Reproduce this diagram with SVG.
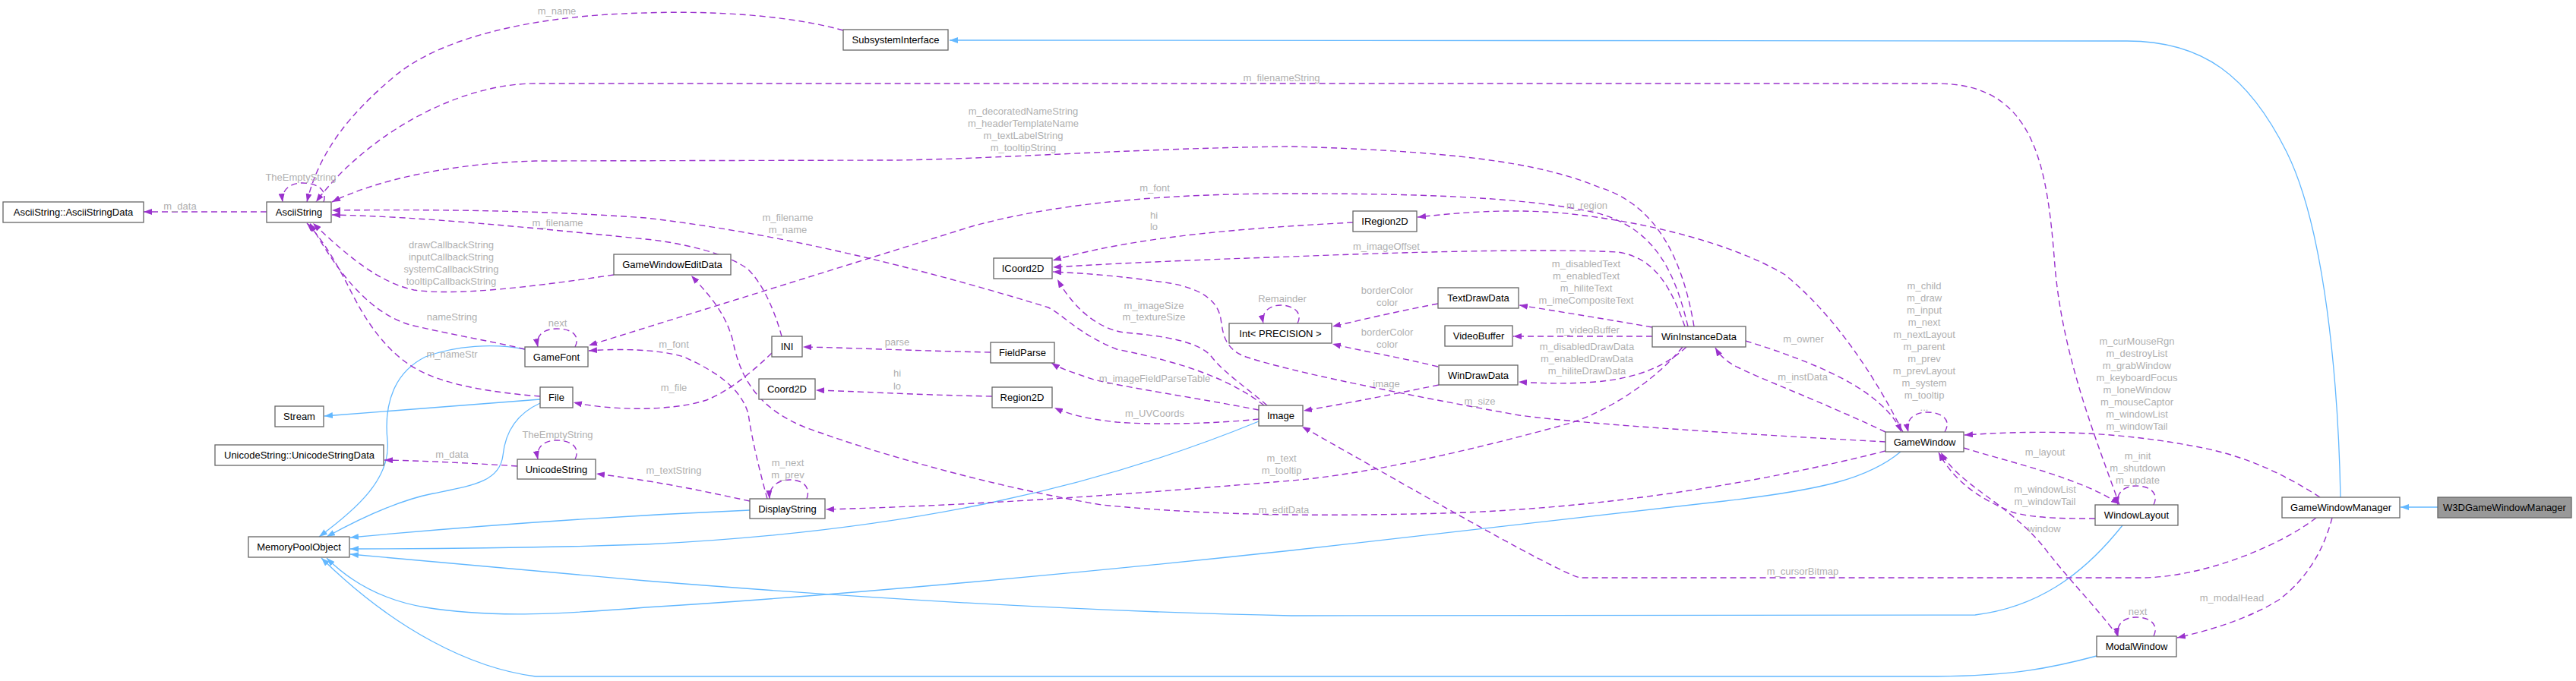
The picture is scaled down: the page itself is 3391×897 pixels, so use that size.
<svg xmlns="http://www.w3.org/2000/svg" width="3391" height="897" viewBox="0 0 3391 897">
<style>
.n rect{fill:#fff;stroke:#666;stroke-width:1.3}
.n text{font-family:"Liberation Sans",Arial,sans-serif;font-size:13px;text-anchor:middle;fill:#000}
.g rect{fill:#999;stroke:#666;stroke-width:1.3}
.e{fill:none;stroke:#9a32cd;stroke-width:1.4;stroke-dasharray:8,5;marker-end:url(#ap)}
.s{fill:none;stroke:#9a32cd;stroke-width:1.4;stroke-dasharray:8,5}
.b{fill:none;stroke:#63b8ff;stroke-width:1.3;marker-end:url(#ab)}
.l{font-family:"Liberation Sans",Arial,sans-serif;font-size:13px;text-anchor:middle;fill:#b0b0b0}
</style>
<defs>
<marker id="ap" viewBox="0 0 11 8" refX="11" refY="4" markerWidth="11" markerHeight="8" markerUnits="userSpaceOnUse" orient="auto"><path d="M0,0 L11,4 L0,8 z" fill="#9a32cd"/></marker>
<marker id="ab" viewBox="0 0 11 8" refX="11" refY="4" markerWidth="11" markerHeight="8" markerUnits="userSpaceOnUse" orient="auto"><path d="M0,0 L11,4 L0,8 z" fill="#63b8ff"/></marker>
</defs>
<rect width="3391" height="897" fill="#fff"/>
<g id="edges">
<!-- inheritance -->
<path class="b" d="M3081,655 C3078,500 3060,300 3010,200 C2960,100 2900,54 2800,54 L1250,53"/>
<path class="b" d="M3209,668 L3160,668"/>
<path class="b" d="M711,526 C600,535 500,542 427,548"/>
<path class="b" d="M711,531 C680,545 665,570 662,600 C658,635 620,640 570,650 C520,660 470,685 430,707"/>
<path class="b" d="M691,460 C650,452 600,455 560,470 C520,490 505,530 510,580 C515,630 470,670 420,707"/>
<path class="b" d="M987,672 C800,680 600,695 461,708"/>
<path class="b" d="M1657,555 C1450,640 1200,700 850,717 C700,722 580,723 461,723"/>
<path class="b" d="M2794,692 C2740,760 2680,800 2600,810 L1700,811 C1400,805 1100,785 850,765 C700,752 560,740 461,730"/>
<path class="b" d="M2502,595 C2460,630 2400,645 2270,660 L1700,725 C1450,752 1100,785 850,800 C750,808 650,815 560,800 C500,790 460,765 430,735"/>
<path class="b" d="M2760,864 C2700,880 2650,890 2550,891 L705,891 C620,880 520,830 423,735"/>
<!-- collaboration -->
<path class="e" d="M351,279 L189,279"/>
<path class="e" d="M426,266 C432,248 414,241 398,241 C382,241 370,250 372,266"/>
<path class="e" d="M1110,40 C1020,15 900,15 850,17 C700,20 580,50 520,100 C460,150 420,200 404,266"/>
<path class="e" d="M2790,665 C2760,580 2715,470 2705,350 C2695,220 2680,110 2550,110 L705,110 C600,110 480,180 416,266"/>
<path class="e" d="M2230,430 C2215,340 2180,270 2106,247 C2040,220 1950,200 1700,193 C1500,195 1300,210 1175,211 L705,212 C600,215 500,235 437,266"/>
<path class="e" d="M2222,430 C2205,360 2180,300 2100,280 C2000,258 1850,255 1700,255 C1550,255 1400,265 1280,298 L775,455"/>
<path class="e" d="M2505,569 C2470,500 2420,420 2350,362 C2280,320 2160,290 2050,280 C1980,275 1920,280 1866,286"/>
<path class="e" d="M2218,430 C2200,380 2180,340 2130,332 C2050,328 1900,330 1700,338 C1550,343 1450,348 1386,352"/>
<path class="e" d="M1781,293 C1650,300 1500,310 1386,343"/>
<path class="e" d="M2482,582 C2300,572 2100,560 2000,547 C1850,520 1700,490 1640,470 C1612,460 1610,440 1607,420 C1603,395 1580,380 1540,373 C1480,364 1430,360 1386,358"/>
<path class="e" d="M1668,534 C1640,510 1610,490 1595,470 C1580,450 1530,442 1480,438 C1440,432 1410,400 1392,368"/>
<path class="e" d="M1664,534 C1620,500 1560,478 1470,460 C1420,440 1400,415 1380,405 C1250,365 1050,310 850,287 C700,276 550,276 437,277"/>
<path class="e" d="M1029,443 C1020,410 1005,375 985,355 C960,335 900,320 850,315 C700,300 550,285 437,283"/>
<path class="e" d="M808,362 C700,378 600,390 545,382 C500,372 460,340 412,294"/>
<path class="e" d="M691,460 C650,450 600,442 540,428 C480,410 440,350 408,294"/>
<path class="e" d="M711,522 C660,518 600,510 560,492 C510,470 480,420 460,380 C440,340 420,310 404,294"/>
<path class="e" d="M757,457 C765,440 750,433 733,433 C715,433 705,442 708,457"/>
<path class="e" d="M1010,657 C1000,620 990,580 985,545 C975,510 940,488 900,470 C860,458 800,460 775,462"/>
<path class="e" d="M2482,594 C2300,640 2100,670 1900,676 C1750,680 1600,680 1450,665 C1300,640 1150,595 1080,570 C1000,545 975,500 965,450 C955,410 930,385 910,363"/>
<path class="e" d="M1016,465 C990,490 960,515 930,527 C880,543 800,540 755,530"/>
<path class="e" d="M1304,464 C1200,462 1120,458 1057,457"/>
<path class="e" d="M1306,522 C1200,520 1120,515 1074,514"/>
<path class="e" d="M1657,540 C1580,525 1480,510 1440,500 C1410,490 1395,485 1384,478"/>
<path class="e" d="M1657,552 C1600,558 1520,560 1470,556 C1430,552 1405,545 1388,537"/>
<path class="e" d="M987,660 C930,648 880,636 785,624"/>
<path class="e" d="M1062,657 C1068,640 1055,632 1040,632 C1025,632 1012,640 1013,657"/>
<path class="e" d="M2215,457 C2180,500 2120,540 2068,557 C1950,590 1800,625 1700,633 C1500,650 1300,665 1087,671"/>
<path class="e" d="M681,614 C620,610 560,607 506,606"/>
<path class="e" d="M757,605 C765,588 750,580 733,580 C715,580 705,590 708,605"/>
<path class="e" d="M1708,426 C1716,410 1700,402 1686,402 C1670,402 1660,412 1663,426"/>
<path class="e" d="M1893,400 C1830,412 1790,422 1754,430"/>
<path class="e" d="M1893,483 C1840,470 1790,462 1754,453"/>
<path class="e" d="M1894,507 C1830,520 1780,530 1716,541"/>
<path class="e" d="M2175,431 C2100,418 2050,410 2000,402"/>
<path class="e" d="M2175,443 L1992,443"/>
<path class="e" d="M2220,457 C2195,480 2160,498 2100,503 C2060,506 2030,505 1999,503"/>
<path class="e" d="M2482,569 C2400,530 2320,500 2290,485 C2275,478 2265,470 2258,458"/>
<path class="e" d="M2298,449 C2350,465 2420,490 2460,520 C2480,535 2495,550 2503,569"/>
<path class="e" d="M2560,569 C2570,552 2555,543 2537,543 C2520,543 2508,552 2512,569"/>
<path class="e" d="M3054,655 C3000,620 2950,600 2900,590 C2800,570 2700,565 2586,573"/>
<path class="e" d="M3049,682 C3000,720 2900,760 2821,761 L2080,761 C2050,755 1800,610 1714,562"/>
<path class="e" d="M3070,682 C3060,720 3040,760 3000,790 C2960,815 2910,830 2866,840"/>
<path class="e" d="M2835,838 C2843,821 2828,813 2812,813 C2796,813 2785,822 2788,838"/>
<path class="e" d="M2788,838 C2760,800 2720,760 2690,720 C2640,660 2580,640 2555,596"/>
<path class="e" d="M2758,683 C2720,683 2680,683 2650,675 C2600,655 2570,630 2552,596"/>
<path class="e" d="M2585,590 C2650,610 2740,630 2790,664"/>
<path class="e" d="M2835,665 C2843,648 2828,640 2812,640 C2796,640 2785,649 2788,665"/>
<!-- labels -->
<text class="l" x="237" y="276">m_data</text>
<text class="l" x="396" y="238">TheEmptyString</text>
<text class="l" x="733" y="19">m_name</text>
<text class="l" x="1687" y="107">m_filenameString</text>
<text class="l" x="1347" y="151">m_decoratedNameString</text>
<text class="l" x="1347" y="167">m_headerTemplateName</text>
<text class="l" x="1347" y="183">m_textLabelString</text>
<text class="l" x="1347" y="199">m_tooltipString</text>
<text class="l" x="1520" y="252">m_font</text>
<text class="l" x="2089" y="275">m_region</text>
<text class="l" x="1825" y="329">m_imageOffset</text>
<text class="l" x="1519" y="288">hi</text>
<text class="l" x="1519" y="303">lo</text>
<text class="l" x="1948" y="533">m_size</text>
<text class="l" x="1519" y="407">m_imageSize</text>
<text class="l" x="1519" y="422">m_textureSize</text>
<text class="l" x="1037" y="291">m_filename</text>
<text class="l" x="1037" y="307">m_name</text>
<text class="l" x="734" y="298">m_filename</text>
<text class="l" x="594" y="327">drawCallbackString</text>
<text class="l" x="594" y="343">inputCallbackString</text>
<text class="l" x="594" y="359">systemCallbackString</text>
<text class="l" x="594" y="375">tooltipCallbackString</text>
<text class="l" x="595" y="422">nameString</text>
<text class="l" x="595" y="471">m_nameStr</text>
<text class="l" x="734" y="430">next</text>
<text class="l" x="887" y="458">m_font</text>
<text class="l" x="1690" y="676">m_editData</text>
<text class="l" x="887" y="515">m_file</text>
<text class="l" x="1181" y="455">parse</text>
<text class="l" x="1181" y="496">hi</text>
<text class="l" x="1181" y="513">lo</text>
<text class="l" x="1520" y="503">m_imageFieldParseTable</text>
<text class="l" x="1520" y="549">m_UVCoords</text>
<text class="l" x="887" y="624">m_textString</text>
<text class="l" x="1037" y="614">m_next</text>
<text class="l" x="1037" y="630">m_prev</text>
<text class="l" x="1687" y="608">m_text</text>
<text class="l" x="1687" y="624">m_tooltip</text>
<text class="l" x="595" y="603">m_data</text>
<text class="l" x="734" y="577">TheEmptyString</text>
<text class="l" x="1688" y="398">Remainder</text>
<text class="l" x="1826" y="387">borderColor</text>
<text class="l" x="1826" y="403">color</text>
<text class="l" x="1826" y="442">borderColor</text>
<text class="l" x="1826" y="458">color</text>
<text class="l" x="1825" y="510">image</text>
<text class="l" x="2088" y="352">m_disabledText</text>
<text class="l" x="2088" y="368">m_enabledText</text>
<text class="l" x="2088" y="384">m_hiliteText</text>
<text class="l" x="2088" y="400">m_imeCompositeText</text>
<text class="l" x="2090" y="439">m_videoBuffer</text>
<text class="l" x="2089" y="461">m_disabledDrawData</text>
<text class="l" x="2089" y="477">m_enabledDrawData</text>
<text class="l" x="2089" y="493">m_hiliteDrawData</text>
<text class="l" x="2373" y="501">m_instData</text>
<text class="l" x="2374" y="451">m_owner</text>
<text class="l" x="2533" y="381">m_child</text>
<text class="l" x="2533" y="397">m_draw</text>
<text class="l" x="2533" y="413">m_input</text>
<text class="l" x="2533" y="429">m_next</text>
<text class="l" x="2533" y="445">m_nextLayout</text>
<text class="l" x="2533" y="461">m_parent</text>
<text class="l" x="2533" y="477">m_prev</text>
<text class="l" x="2533" y="493">m_prevLayout</text>
<text class="l" x="2533" y="509">m_system</text>
<text class="l" x="2533" y="525">m_tooltip</text>
<text class="l" x="2533" y="541">...</text>
<text class="l" x="2813" y="454">m_curMouseRgn</text>
<text class="l" x="2813" y="470">m_destroyList</text>
<text class="l" x="2813" y="486">m_grabWindow</text>
<text class="l" x="2813" y="502">m_keyboardFocus</text>
<text class="l" x="2813" y="518">m_loneWindow</text>
<text class="l" x="2813" y="534">m_mouseCaptor</text>
<text class="l" x="2813" y="550">m_windowList</text>
<text class="l" x="2813" y="566">m_windowTail</text>
<text class="l" x="2373" y="757">m_cursorBitmap</text>
<text class="l" x="2938" y="792">m_modalHead</text>
<text class="l" x="2814" y="810">next</text>
<text class="l" x="2691" y="701">window</text>
<text class="l" x="2692" y="649">m_windowList</text>
<text class="l" x="2692" y="665">m_windowTail</text>
<text class="l" x="2692" y="600">m_layout</text>
<text class="l" x="2814" y="605">m_init</text>
<text class="l" x="2814" y="621">m_shutdown</text>
<text class="l" x="2814" y="637">m_update</text>
</g>
<g id="n_asd" class="n"><rect x="4" y="266" width="185" height="27"/><text x="96.5" y="284">AsciiString::AsciiStringData</text></g>
<g id="n_as" class="n"><rect x="351" y="266" width="85" height="27"/><text x="393.5" y="284">AsciiString</text></g>
<g id="n_si" class="n"><rect x="1110" y="39" width="138" height="27"/><text x="1179" y="57">SubsystemInterface</text></g>
<g id="n_gwed" class="n"><rect x="808" y="335" width="154" height="27"/><text x="885" y="353">GameWindowEditData</text></g>
<g id="n_icoord" class="n"><rect x="1308" y="340" width="77" height="27"/><text x="1346.5" y="358">ICoord2D</text></g>
<g id="n_iregion" class="n"><rect x="1781" y="278" width="84" height="27"/><text x="1823" y="296">IRegion2D</text></g>
<g id="n_tdd" class="n"><rect x="1893" y="379" width="106" height="27"/><text x="1946" y="397">TextDrawData</text></g>
<g id="n_int" class="n"><rect x="1618" y="426" width="135" height="26"/><text x="1685.5" y="443.5">Int&lt; PRECISION &gt;</text></g>
<g id="n_vb" class="n"><rect x="1902" y="429" width="89" height="27"/><text x="1946.5" y="447">VideoBuffer</text></g>
<g id="n_wid" class="n"><rect x="2175" y="430" width="123" height="27"/><text x="2236.5" y="448">WinInstanceData</text></g>
<g id="n_gf" class="n"><rect x="691" y="457" width="83" height="26"/><text x="732.5" y="474.5">GameFont</text></g>
<g id="n_ini" class="n"><rect x="1016" y="443" width="40" height="27"/><text x="1036" y="461">INI</text></g>
<g id="n_fp" class="n"><rect x="1304" y="451" width="84" height="27"/><text x="1346" y="469">FieldParse</text></g>
<g id="n_file" class="n"><rect x="711" y="510" width="43" height="27"/><text x="732.5" y="528">File</text></g>
<g id="n_c2d" class="n"><rect x="999" y="499" width="74" height="27"/><text x="1036" y="517">Coord2D</text></g>
<g id="n_r2d" class="n"><rect x="1306" y="510" width="79" height="27"/><text x="1345.5" y="528">Region2D</text></g>
<g id="n_stream" class="n"><rect x="362" y="535" width="64" height="27"/><text x="394" y="553">Stream</text></g>
<g id="n_image" class="n"><rect x="1657" y="534" width="58" height="27"/><text x="1686" y="552">Image</text></g>
<g id="n_wdd" class="n"><rect x="1894" y="481" width="104" height="26"/><text x="1946" y="498.5">WinDrawData</text></g>
<g id="n_usd" class="n"><rect x="283" y="586" width="222" height="27"/><text x="394" y="604">UnicodeString::UnicodeStringData</text></g>
<g id="n_us" class="n"><rect x="681" y="605" width="103" height="26"/><text x="732.5" y="622.5">UnicodeString</text></g>
<g id="n_ds" class="n"><rect x="987" y="657" width="99" height="26"/><text x="1036.5" y="674.5">DisplayString</text></g>
<g id="n_gw" class="n"><rect x="2482" y="569" width="103" height="26"/><text x="2533.5" y="586.5">GameWindow</text></g>
<g id="n_wl" class="n"><rect x="2758" y="665" width="109" height="27"/><text x="2812.5" y="683">WindowLayout</text></g>
<g id="n_gwm" class="n"><rect x="3004" y="655" width="155" height="27"/><text x="3081.5" y="673">GameWindowManager</text></g>
<g id="n_w3d" class="n g"><rect x="3209" y="655" width="176" height="27"/><text x="3297" y="673">W3DGameWindowManager</text></g>
<g id="n_mpo" class="n"><rect x="327" y="707" width="133" height="27"/><text x="393.5" y="725">MemoryPoolObject</text></g>
<g id="n_mw" class="n"><rect x="2760" y="838" width="105" height="27"/><text x="2812.5" y="856">ModalWindow</text></g>
</svg>
